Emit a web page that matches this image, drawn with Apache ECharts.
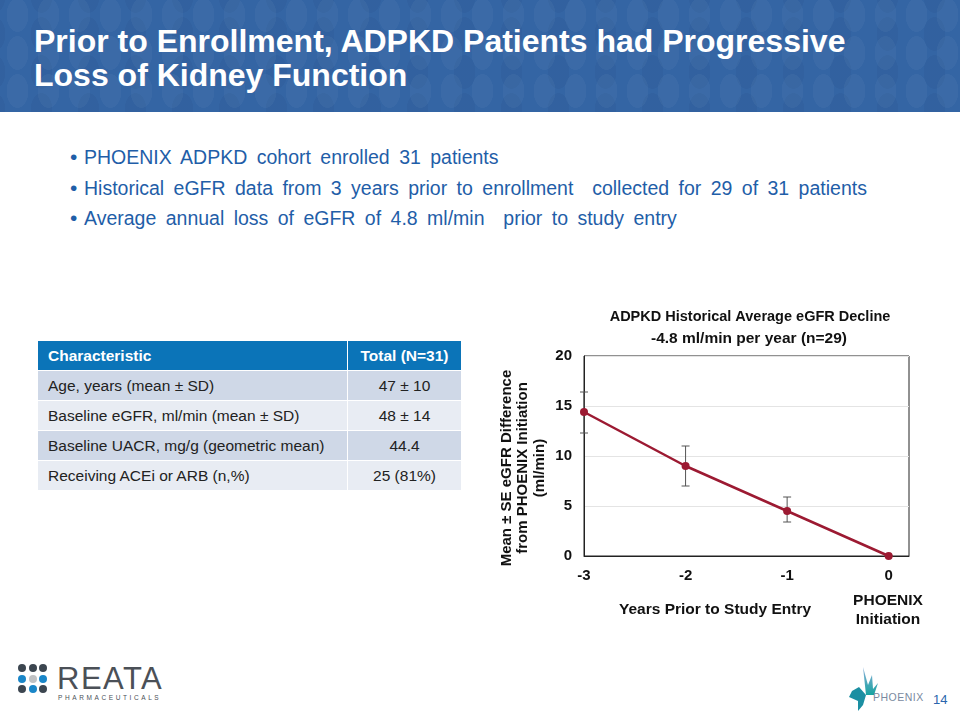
<!DOCTYPE html>
<html>
<head>
<meta charset="utf-8">
<script src="https://cdn.jsdelivr.net/npm/echarts@6/dist/echarts.min.js"></script>
<style>
  html, body { margin:0; padding:0; width:960px; height:720px; background:#fff; overflow:hidden; font-family:"Liberation Sans", Arial, sans-serif; }
  #header { position:absolute; left:0; top:0; width:960px; height:112px;
    background-color:#3465a4;
    background-image: radial-gradient(ellipse 11px 17px at 50% 50%, rgba(255,255,255,0.035) 98%, rgba(255,255,255,0) 100%),
                      radial-gradient(ellipse 11px 17px at 50% 50%, rgba(0,0,40,0.035) 98%, rgba(0,0,0,0) 100%);
    background-size: 31px 38px, 47px 38px; background-position: 2px -4px, 18px 15px; }
  #title { position:absolute; left:34px; top:24px; color:#fff; font-weight:bold; font-size:32px; line-height:34px; white-space:nowrap; }
  #bullets { position:absolute; left:70px; top:142px; color:#1f5ea8; font-size:19.5px; line-height:29.5px; word-spacing:4px; white-space:nowrap; }
  #bullets div::before { content:"\2022"; display:inline-block; width:14px; font-size:21px; }
  table { position:absolute; left:37px; top:340px; border-collapse:collapse; font-size:15.5px; color:#222; }
  td, th { height:29px; padding:0 10px; border:1px solid #fff; white-space:nowrap; }
  th { background:#0b74b8; color:#fff; text-align:left; font-weight:bold; }
  th.c2, td.c2 { text-align:center; }
  tr.r1 td { background:#cfd8e7; }
  tr.r2 td { background:#e8ecf3; }
  #chart { position:absolute; left:0; top:0; width:960px; height:720px; }
  #reata { position:absolute; left:18px; top:664px; }
  .dot { position:absolute; width:8px; height:8px; border-radius:50%; }
  #reataText { position:absolute; left:57px; top:661px; font-size:31px; color:#4b5057; letter-spacing:1.5px; }
  #pharma { position:absolute; left:58px; top:694px; font-size:6.5px; color:#4b5057; letter-spacing:2.6px; }
  #phx { position:absolute; left:873px; top:691px; font-size:10.5px; color:#7a8aa0; letter-spacing:0.5px; }
  #page { position:absolute; left:933px; top:692px; font-size:13px; color:#2a66ad; }
</style>
</head>
<body>
<div id="header"></div>
<div id="title">Prior to Enrollment, ADPKD Patients had Progressive<br>Loss of Kidney Function</div>
<div id="bullets">
  <div>PHOENIX ADPKD cohort enrolled 31 patients</div>
  <div>Historical eGFR data from 3 years prior to enrollment&nbsp; collected for 29 of 31 patients</div>
  <div>Average annual loss of eGFR of 4.8 ml/min&nbsp; prior to study entry</div>
</div>
<table id="tbl"></table>
<div id="reata"></div>
<div id="reataText">REATA</div>
<div id="pharma">PHARMACEUTICALS</div>
<svg style="position:absolute;left:846px;top:665px" width="36" height="48" viewBox="0 0 36 48">
  <defs><linearGradient id="g" x1="0" y1="0" x2="0" y2="1"><stop offset="0" stop-color="#8fb0dc"/><stop offset="1" stop-color="#16a3a0"/></linearGradient></defs>
  <path d="M17 2 L22 20 L26 10 L27 24 L32 18 L28 30 L20 30 Z" fill="url(#g)"/>
  <path d="M6 26 L13 22 L20 30 L17 40 L12 46 L12 36 L3 32 Z" fill="#1b8fa2"/>
</svg>
<div id="phx">PHOENIX</div>
<div id="page">14</div>
<div id="chart"></div>
<script>
// ----- table data -----
const tableHeader = ["Characteristic", "Total (N=31)"];
const tableRows = [
  ["Age, years (mean \u00b1 SD)", "47 \u00b1 10"],
  ["Baseline eGFR, ml/min (mean \u00b1 SD)", "48 \u00b1 14"],
  ["Baseline UACR, mg/g (geometric mean)", "44.4"],
  ["Receiving ACEi or ARB (n,%)", "25 (81%)"]
];
// ----- chart data -----
const years = [-3, -2, -1, 0];
const meanDiff = [14.4, 9.0, 4.5, 0];
const seLow = [12.3, 7.0, 3.4, 0];
const seHigh = [16.4, 11.0, 5.9, 0];
const yTicks = [0, 5, 10, 15, 20];

// build table
const tbl = document.getElementById('tbl');
let html = '<tr><th style="width:289px">' + tableHeader[0] + '</th><th class="c2" style="width:93px">' + tableHeader[1] + '</th></tr>';
tableRows.forEach((r, i) => {
  html += '<tr class="' + (i % 2 === 0 ? 'r1' : 'r2') + '"><td>' + r[0] + '</td><td class="c2">' + r[1] + '</td></tr>';
});
tbl.innerHTML = html;

// REATA dots
const dotColors = [["#3c4650","#3c4650","#3c4650"],["#1a86c8","#c0c2c4","#1a86c8"],["#3c4650","#1a86c8","#3c4650"]];
const reata = document.getElementById('reata');
dotColors.forEach((row, r) => row.forEach((c, k) => {
  const d = document.createElement('div');
  d.className = 'dot'; d.style.left = (k * 10.5) + 'px'; d.style.top = (r * 10.5) + 'px'; d.style.background = c;
  reata.appendChild(d);
}));

const chart = echarts.init(document.getElementById('chart'), null, { renderer: 'canvas' });
const fontFam = '"Liberation Sans", Arial, sans-serif';
chart.setOption({
  animation: false,
  title: [
    { text: 'ADPKD Historical Average eGFR Decline', left: 745, top: 304, textAlign: 'center',
      textStyle: { fontSize: 14.5, fontWeight: 'bold', color: '#111', fontFamily: fontFam } },
    { text: '-4.8 ml/min per year (n=29)', left: 744, top: 326, textAlign: 'center',
      textStyle: { fontSize: 15.5, fontWeight: 'bold', color: '#111', fontFamily: fontFam } }
  ],
  grid: { left: 584, top: 356, width: 325, height: 200, show: true, borderColor: '#222', borderWidth: 1, backgroundColor: 'transparent' },
  xAxis: {
    type: 'value', min: -3, max: 0.2, interval: 1,
    axisLine: { show: true, onZero: false, lineStyle: { color: '#222', width: 1 } },
    axisTick: { show: false },
    splitLine: { show: false },
    axisLabel: { margin: 12, fontSize: 15, fontWeight: 'bold', color: '#111', fontFamily: fontFam,
      formatter: v => (Number.isInteger(v) ? String(v) : '') }
  },
  yAxis: {
    type: 'value', min: yTicks[0], max: yTicks[yTicks.length - 1], interval: 5,
    axisLine: { show: true, onZero: false, lineStyle: { color: '#222', width: 1 } },
    axisTick: { show: false },
    splitLine: { show: true, lineStyle: { color: '#e4e4e4', width: 1 } },
    axisLabel: { margin: 12, fontSize: 15, fontWeight: 'bold', color: '#111', fontFamily: fontFam }
  },
  graphic: [
    { type: 'text', x: 523, y: 468, rotation: Math.PI / 2, style: {
        text: 'Mean \u00b1 SE eGFR Difference\nfrom PHOENIX Initiation\n(ml/min)', align: 'center', verticalAlign: 'middle',
        fill: '#111', lineHeight: 16.5, font: 'bold 15px ' + fontFam } },
    { type: 'text', x: 715, y: 610, style: { text: 'Years Prior to Study Entry', align: 'center', verticalAlign: 'middle',
        font: 'bold 15.5px ' + fontFam, fill: '#111' } },
    { type: 'text', x: 888, y: 610, style: { text: 'PHOENIX\nInitiation', align: 'center', verticalAlign: 'middle',
        font: 'bold 15.5px ' + fontFam, fill: '#111', lineHeight: 19 } }
  ],
  series: [
    {
      type: 'custom',
      data: years.map((x, i) => [x, seLow[i], seHigh[i]]),
      renderItem: (params, api) => {
        const x = api.value(0);
        const lo = api.coord([x, api.value(1)]);
        const hi = api.coord([x, api.value(2)]);
        const w = 4;
        const st = { stroke: '#555', lineWidth: 1 };
        return { type: 'group', children: [
          { type: 'line', shape: { x1: hi[0], y1: hi[1], x2: lo[0], y2: lo[1] }, style: st },
          { type: 'line', shape: { x1: hi[0] - w, y1: hi[1], x2: hi[0] + w, y2: hi[1] }, style: st },
          { type: 'line', shape: { x1: lo[0] - w, y1: lo[1], x2: lo[0] + w, y2: lo[1] }, style: st }
        ]};
      },
      z: 1
    },
    {
      type: 'line',
      data: years.map((x, i) => [x, meanDiff[i]]),
      symbol: 'circle', symbolSize: 8,
      lineStyle: { color: '#9c1a32', width: 2.5 },
      itemStyle: { color: '#9c1a32' },
      z: 3
    }
  ]
});
</script>
</body>
</html>
